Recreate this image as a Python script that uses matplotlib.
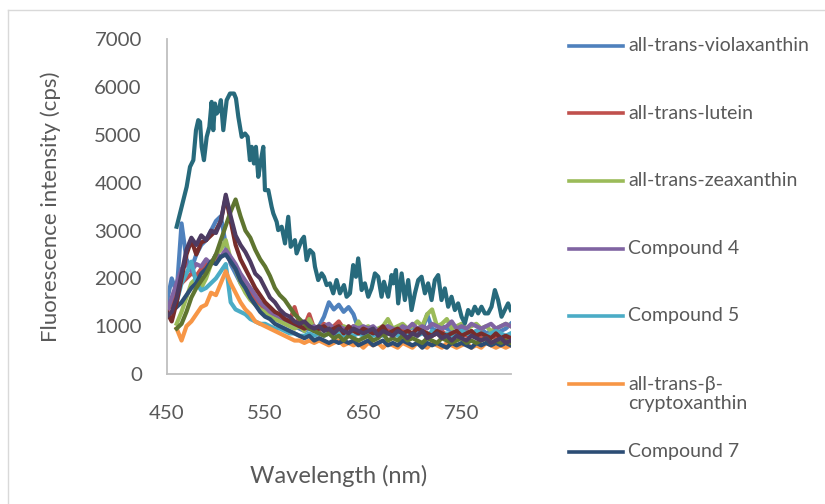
import numpy as np
import matplotlib.pyplot as plt
from matplotlib.lines import Line2D

plt.rcParams['font.family'] = ['Lato', 'DejaVu Sans']

nan = np.nan
wl = np.arange(450, 801, 5)

labels = ['all-trans-violaxanthin', 'all-trans-lutein', 'all-trans-zeaxanthin',
          'Compound 4', 'Compound 5', 'all-trans-\u03b2-\ncryptoxanthin', 'Compound 7']
colors = ['#4F81BD', '#C0504D', '#9BBB59', '#8064A2', '#4BACC6', '#F79646', '#2C4D75',
          '#772C2A', '#5F7530', '#4D3B62', '#276A7C']

violaxanthin = [1500, 2000, 1700, 3150, 2400, 2200, 2500, 2700, 2800, 3000, 3200, 3300, 2700, 2300,
                2100, 1900, 1750, 1600, 1500, 1400, 1350, 1250, 1200, 1150, 1100, 1050, 1000, 950,
                900, 950, 900, 1000, 1200, 1500, 1350, 1450, 1300, 1400, 1250, 950, 900, 950, 850,
                900, 950, 1000, 900, 850, 950, 900, 1000, 850, 900, 1250, 950, 900, 1000, 950, 900,
                850, 950, 900, 850, 900, 950, 850, 900, 850, 900, 950, 1050]
lutein = [1300, 1500, 1800, 1900, 2000, 2100, 2050, 2200, 2300, 2350, 2400, 2450, 2550, 2350, 2200,
          2000, 1800, 1700, 1600, 1450, 1350, 1300, 1250, 1200, 1150, 1100, 1400, 1050, 1000, 1250,
          950, 900, 1050, 950, 1000, 1100, 950, 900, 1000, 850, 900, 950, 850, 900, 850, 950, 800,
          850, 900, 800, 850, 800, 900, 850, 800, 850, 900, 800, 850, 800, 850, 800, 900, 800, 750,
          800, 850, 750, 800, 750, 800]
zeaxanthin = [nan, nan, 1050, 1300, 1600, 1900, 2000, 1800, 2000, 2300, 2500, 2600, 2800, 2400, 2200,
              1900, 1700, 1550, 1450, 1350, 1300, 1200, 1150, 1100, 1050, 1000, 950, 1000, 900, 1150,
              950, 1000, 900, 1000, 950, 900, 1000, 950, 900, 1100, 950, 1000, 900, 950, 1000, 1150,
              950, 1000, 1050, 950, 1000, 1100, 1000, 1250, 1350, 1000, 1050, 1150, 950, 1000, 1050,
              950, 1000, 1050, 950, 1000, 900, 950, 1000, 1050, 1000]
compound4 = [1300, 1600, 1900, 2200, 2300, 2150, 2300, 2250, 2400, 2300, 2500, 2450, 2600, 2450, 2300,
             2100, 1950, 1800, 1650, 1500, 1400, 1300, 1250, 1200, 1150, 1100, 1050, 1000, 1050, 950,
             1000, 950, 1000, 1050, 950, 1000, 950, 900, 1000, 950, 1000, 950, 1000, 900, 950, 1000,
             950, 900, 1000, 950, 1050, 950, 1000, 950, 1050, 1000, 950, 1000, 1100, 950, 1000, 950,
             1050, 1000, 950, 1000, 1050, 950, 1000, 1050, 1000]
compound5 = [nan, nan, 1500, 1900, 2100, 2350, 1900, 1750, 1800, 1900, 2000, 2150, 2300, 1500, 1350,
             1300, 1250, 1150, 1100, 1050, 1050, 1000, 950, 950, 900, 850, 850, 800, 800, 850, 800,
             850, 800, 850, 800, 850, 800, 850, 800, 850, 800, 850, 800, 850, 800, 850, 900, 800, 850,
             800, 850, 800, 850, 800, 900, 850, 800, 850, 800, 850, 900, 850, 800, 900, 850, 800, 850,
             900, 850, 800, 850]
cryptoxanthin = [nan, nan, 950, 700, 1000, 1100, 1250, 1400, 1450, 1700, 1650, 1900, 2150, 1900, 1700,
                 1500, 1350, 1250, 1100, 1050, 1000, 950, 900, 850, 800, 750, 700, 700, 650, 700, 650,
                 700, 650, 600, 650, 700, 600, 650, 600, 650, 550, 650, 600, 650, 550, 650, 600, 550,
                 650, 600, 550, 650, 600, 550, 650, 600, 550, 650, 600, 550, 600, 650, 550, 600, 550,
                 650, 600, 550, 600, 550, 600]
compound7 = [nan, nan, 1400, 1500, 1650, 1800, 1900, 2100, 2200, 2350, 2300, 2450, 2500, 2350, 2200,
             1950, 1800, 1600, 1450, 1300, 1200, 1150, 1050, 1000, 950, 900, 850, 800, 750, 800, 700,
             750, 700, 650, 700, 650, 700, 650, 700, 600, 650, 700, 600, 650, 700, 600, 650, 600, 700,
             650, 600, 650, 550, 650, 600, 650, 600, 550, 650, 600, 650, 600, 550, 650, 600, 650, 600,
             650, 600, 650, 600]
compound8 = [1300, 1100, 1500, 2000, 2500, 2800, 2500, 2750, 2800, 2900, 3000, 3200, 3700, 3200, 2700,
             2400, 2200, 2000, 1800, 1650, 1500, 1400, 1300, 1250, 1150, 1100, 1050, 1000, 950, 1000,
             900, 950, 1000, 900, 950, 1000, 850, 1000, 900, 850, 950, 900, 850, 900, 1000, 850, 900,
             950, 850, 900, 850, 950, 900, 850, 800, 900, 850, 800, 850, 900, 800, 850, 900, 800, 850,
             800, 750, 850, 750, 800, 750]
compound9 = [nan, nan, 950, 1050, 1300, 1600, 1800, 1950, 2100, 2300, 2500, 2800, 3100, 3400, 3650,
             3300, 3000, 2850, 2600, 2400, 2250, 2050, 1800, 1650, 1550, 1400, 1250, 1150, 1050, 950,
             900, 850, 800, 850, 750, 800, 700, 800, 750, 700, 750, 800, 700, 750, 850, 700, 750, 700,
             800, 700, 750, 700, 650, 750, 700, 650, 750, 700, 650, 700, 750, 650, 700, 650, 700, 750,
             650, 700, 650, 700, 650]
compound10 = [1200, 1300, 1600, 2100, 2600, 2850, 2700, 2900, 2800, 3000, 2950, 3200, 3750, 3300, 2900,
              2700, 2550, 2350, 2100, 2000, 1800, 1600, 1500, 1350, 1250, 1200, 1100, 1050, 1100, 1000,
              950, 1000, 900, 950, 850, 950, 900, 850, 950, 900, 850, 900, 950, 800, 900, 850, 800, 900,
              850, 750, 850, 800, 900, 750, 800, 850, 750, 800, 700, 800, 750, 700, 800, 750, 700, 750,
              650, 700, 750, 650, 700]

# dark teal spectrum, read at finer spacing
wl11 = [460, 463.4, 466.8, 470.2, 471.9, 473.6, 475.3, 477, 479.7, 482, 483.8, 485.5, 487.8, 490.6,
        493.3, 495.6, 497.3, 499, 500.8, 503, 505, 507.5, 510.9, 514.3, 518.4, 520.4, 522.8, 526.2,
        529.6, 532.3, 534.6, 536.4, 538.7, 540.7, 543.1, 545.8, 548.2, 549.9, 553.3, 556.7, 558.4,
        561.8, 563.4, 566.9, 570.3, 573.6, 576.1, 580.4, 582.1, 587.2, 589.6, 592.3, 595.7, 599,
        600.8, 604.1, 607.6, 609.9, 612.7, 616, 619.4, 622.8, 626.2, 630.3, 633, 636.4, 639.7, 642.5,
        644.8, 648.3, 651.6, 655, 658.4, 661.8, 665.2, 668.6, 671, 675.3, 678.8, 680.4, 683.2, 685.5,
        689, 692.3, 695.7, 699.1, 702.5, 705.9, 709.3, 712.7, 716, 719.5, 722.8, 726.2, 729.6, 733,
        736.4, 739.8, 743.2, 746.5, 750, 753.4, 756.7, 760.2, 763.5, 766.9, 770.3, 773.7, 777, 780.5,
        783.9, 787.2, 790.7, 794, 797.4, 800]
compound11 = [3080, 3358, 3637, 3915, 4124, 4333, 4403, 4473, 5100, 5309, 5273, 4751, 4473, 4960,
              5169, 5691, 5100, 5657, 5448, 5518, 5727, 5100, 5727, 5866, 5866, 5762, 5378, 4960,
              5030, 4960, 4473, 4751, 4403, 4751, 4124, 4473, 4751, 3846, 3846, 3497, 3358, 3183,
              3010, 3080, 2731, 3288, 2661, 2800, 2522, 2800, 2870, 2383, 2592, 2522, 2243, 1965,
              2104, 2034, 1860, 1896, 1687, 1965, 1687, 1860, 1616, 1687, 2278, 2034, 2418, 1756,
              1896, 1616, 1791, 2104, 2034, 1616, 1929, 1616, 2069, 1896, 2174, 1477, 2104, 1547,
              1965, 1338, 1687, 1965, 2034, 1687, 1896, 1547, 1965, 2069, 1547, 1791, 1407, 1616,
              1338, 1477, 1198, 1060, 1338, 1233, 1407, 1268, 1407, 1268, 1268, 1407, 1756, 1547,
              1198, 1338, 1477, 1338]

series = [violaxanthin, lutein, zeaxanthin, compound4, compound5, cryptoxanthin, compound7,
          compound8, compound9, compound10]

fig = plt.figure(figsize=(8.25, 5.04), dpi=100)
ax = fig.add_axes([0.2022, 0.2579, 0.4168, 0.6641])

for vals, c in zip(series, colors):
    ax.plot(wl, vals, color=c, lw=3.0, solid_joinstyle='round')
ax.plot(wl11, compound11, color=colors[10], lw=3.0, solid_joinstyle='round')

ax.set_xlim(450, 800)
ax.set_ylim(0, 7000)
ax.set_xticks([450, 550, 650, 750])
ax.set_yticks(range(0, 7001, 1000))
for s in ['top', 'right']:
    ax.spines[s].set_visible(False)
for s in ['left', 'bottom']:
    ax.spines[s].set_color('#BFBFBF')
    ax.spines[s].set_linewidth(1.3)
ax.tick_params(axis='y', length=0, pad=18, labelsize=14.7, labelcolor='#595959')
ax.tick_params(axis='x', length=0, pad=22, labelsize=14.7, labelcolor='#595959')
ax.set_xlabel('Wavelength (nm)', fontsize=17, color='#595959')
ax.set_ylabel('Fluorescence intensity (cps)', fontsize=16, color='#595959')
ax.xaxis.set_label_coords(0.5, -0.272)
ax.yaxis.set_label_coords(-0.307, 0.5)

# legend drawn by hand, Excel style
W, H = 825, 504
entry_y = [45.7, 113.3, 181, 248.7, 315.7, 383.7, 451.7]
for lab, c, y in zip(labels, colors, entry_y):
    fig.add_artist(Line2D([569 / W, 623 / W], [1 - y / H, 1 - y / H], color=c, lw=2.6))
    nlines = lab.count('\n')
    fig.text(628 / W, 1 - (y + nlines * 10.5) / H, lab, fontsize=14, color='#595959',
             va='center', ha='left', linespacing=1.15)

# chart border
fig.add_artist(Line2D([8 / W, 1.0], [1 - 10 / H, 1 - 10 / H], color='#D9D9D9', lw=1))
fig.add_artist(Line2D([8 / W, 8 / W], [0, 1 - 10 / H], color='#D9D9D9', lw=1))

fig.savefig('out.png', dpi=100)
